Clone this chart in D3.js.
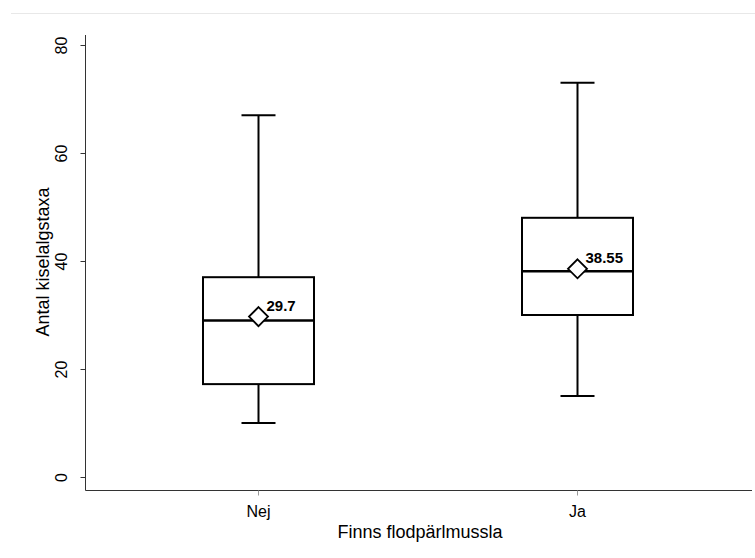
<!DOCTYPE html>
<html>
<head>
<meta charset="utf-8">
<script src="https://cdn.jsdelivr.net/npm/d3@7"></script>
<style>
  body { margin: 0; background: #fff; }
  text { font-family: Arial, "Liberation Sans", sans-serif; }
</style>
</head>
<body>
<svg id="chart" width="755" height="558"></svg>
<script>
// data
var groups = ['Nej', 'Ja'];
var whiskerLow = [10, 15];
var q1 = [17.2, 30];
var median = [29, 38.1];
var q3 = [37, 48];
var whiskerHigh = [67, 73];
var means = [29.7, 38.55];
var meanLabels = ['29.7', '38.55'];
var yTicks = [0, 20, 40, 60, 80];

var svg = d3.select('#chart');

// faint frame line at the top
svg.append('line')
    .attr('x1', 11).attr('x2', 755)
    .attr('y1', 13.5).attr('y2', 13.5)
    .style('stroke', '#e8e8e8')
    .style('stroke-width', 1);

var y = d3.scaleLinear().domain([0, 80]).range([477, 45]);
var x = d3.scalePoint().domain(groups).range([258, 577]);
var boxW = 111;

// y axis
var yAxis = svg.append('g')
    .attr('transform', 'translate(85.5,0)')
    .call(d3.axisLeft(y).tickValues(yTicks).tickSize(5));
yAxis.select('.domain').attr('d', 'M0,35V490.5').style('stroke', '#333');
yAxis.selectAll('.tick line').style('stroke', '#333');
yAxis.selectAll('.tick text')
    .attr('transform', 'rotate(-90)')
    .attr('x', 0).attr('y', -19)
    .attr('dy', '0')
    .attr('text-anchor', 'middle')
    .style('font-size', '16px')
    .style('fill', '#000');

// x axis
var xAxis = svg.append('g')
    .attr('transform', 'translate(0,490.5)')
    .call(d3.axisBottom(x).tickSize(5));
xAxis.select('.domain').attr('d', 'M85.5,0H752').style('stroke', '#333');
xAxis.selectAll('.tick line').style('stroke', '#999');
xAxis.selectAll('.tick text')
    .attr('y', 26).attr('dy', '0')
    .style('font-size', '16px')
    .style('fill', '#000');

// axis titles
svg.append('text')
    .attr('transform', 'translate(49,262) rotate(-90)')
    .attr('text-anchor', 'middle')
    .style('font-size', '18px')
    .text('Antal kiselalgstaxa');

svg.append('text')
    .attr('x', 420).attr('y', 538)
    .attr('text-anchor', 'middle')
    .style('font-size', '18px')
    .text('Finns flodpärlmussla');

// boxes
groups.forEach(function(g, i) {
    var cx = Math.round(x(g)) + 0.5;
    var box = svg.append('g');

    box.append('line')
        .attr('x1', cx).attr('x2', cx)
        .attr('y1', y(whiskerHigh[i])).attr('y2', y(q3[i]))
        .style('stroke', '#000').style('stroke-width', 2);
    box.append('line')
        .attr('x1', cx).attr('x2', cx)
        .attr('y1', y(q1[i])).attr('y2', y(whiskerLow[i]))
        .style('stroke', '#000').style('stroke-width', 2);
    box.append('line')
        .attr('x1', cx - 17).attr('x2', cx + 17)
        .attr('y1', y(whiskerHigh[i])).attr('y2', y(whiskerHigh[i]))
        .style('stroke', '#000').style('stroke-width', 2);
    box.append('line')
        .attr('x1', cx - 17).attr('x2', cx + 17)
        .attr('y1', y(whiskerLow[i])).attr('y2', y(whiskerLow[i]))
        .style('stroke', '#000').style('stroke-width', 2);

    box.append('rect')
        .attr('x', cx - boxW / 2)
        .attr('y', y(q3[i]))
        .attr('width', boxW)
        .attr('height', y(q1[i]) - y(q3[i]))
        .style('fill', 'none')
        .style('stroke', '#000')
        .style('stroke-width', 2);

    box.append('line')
        .attr('x1', cx - boxW / 2).attr('x2', cx + boxW / 2)
        .attr('y1', y(median[i])).attr('y2', y(median[i]))
        .style('stroke', '#000').style('stroke-width', 2.5);

    var my = y(means[i]);
    box.append('path')
        .attr('d', 'M' + cx + ',' + (my - 9.5) + 'L' + (cx + 9.5) + ',' + my +
            'L' + cx + ',' + (my + 9.5) + 'L' + (cx - 9.5) + ',' + my + 'Z')
        .style('fill', '#fff')
        .style('stroke', '#000')
        .style('stroke-width', 1.8);

    box.append('text')
        .attr('x', cx + 8)
        .attr('y', my - 6)
        .style('font-size', '15px')
        .style('font-weight', 'bold')
        .text(meanLabels[i]);
});
</script>
</body>
</html>
